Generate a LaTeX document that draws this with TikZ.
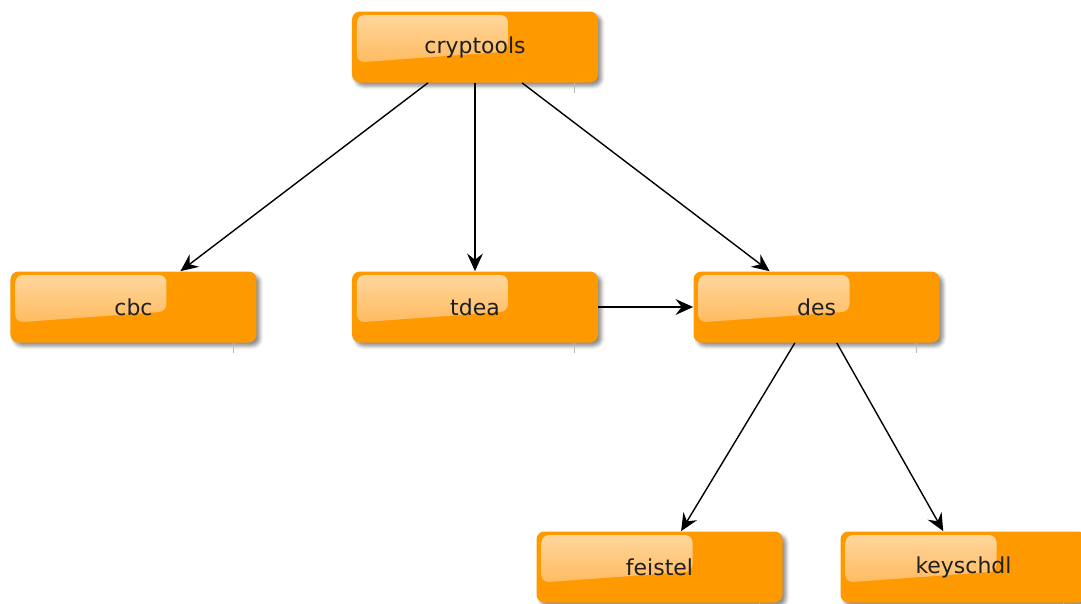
\documentclass[tikz,border=0pt]{standalone}
\usepackage{fontspec}
\setmainfont{DejaVu Sans}
\usepackage{xcolor}
\usepackage{tikz}
\usetikzlibrary{trees}
\usetikzlibrary{shadows.blur}
\usetikzlibrary{arrows.meta}
\definecolor{amber}{RGB}{255,153,0}
\definecolor{amberlight}{RGB}{255,216,160}
\definecolor{amberglow}{RGB}{255,176,72}

\begin{document}
\begin{tikzpicture}[
  level distance=5.2cm,
  level 1/.style={sibling distance=6.83cm},
  level 2/.style={sibling distance=6.08cm},
  link/.style={draw,-{Stealth[length=10pt,width=9pt,inset=3.5pt]},line width=0.8pt},
  edge from parent/.style={link},
  modbox/.style={rectangle,rounded corners=0.16cm,fill=amber,
    minimum width=4.92cm,minimum height=1.42cm,inner sep=0pt,
    font=\fontsize{12.5}{15}\selectfont,text=black!88,
    blur shadow={shadow xshift=0.07cm,shadow yshift=-0.07cm,
      shadow blur radius=0.07cm,shadow opacity=45},
    path picture={\shade[top color=amberlight,bottom color=amberglow,rounded corners=0.15cm]
      ([xshift=0.1cm,yshift=-0.07cm]path picture bounding box.north west)
      -- ([xshift=3.12cm,yshift=-0.07cm]path picture bounding box.north west)
      -- ([xshift=3.12cm,yshift=-0.8cm]path picture bounding box.north west)
      -- ([xshift=0.1cm,yshift=-1.02cm]path picture bounding box.north west) -- cycle;}},
  tick/.style={gray!55,line width=0.5pt}]
  \useasboundingbox (-9.5,0.94) rectangle (12.12,-11.12);
  \node[modbox] (cryptools) {cryptools}
    child {node[modbox] (cbc) {cbc}}
    child {node[modbox] (tdea) {tdea}}
    child {node[modbox] (des) {des}
      child {node[modbox,xshift=-0.1cm] (feistel) {feistel}}
      child {node[modbox,xshift=-0.1cm] (keyschdl) {keyschdl}}
    };
  \draw[link] (tdea) -- (des);
  % shadow edge marks under the boxes
  \foreach \n in {cryptools,cbc,tdea,des,feistel,keyschdl}
    \draw[tick] ([xshift=-0.47cm]\n.south east) -- ++(0,-0.2);
\end{tikzpicture}
\end{document}
